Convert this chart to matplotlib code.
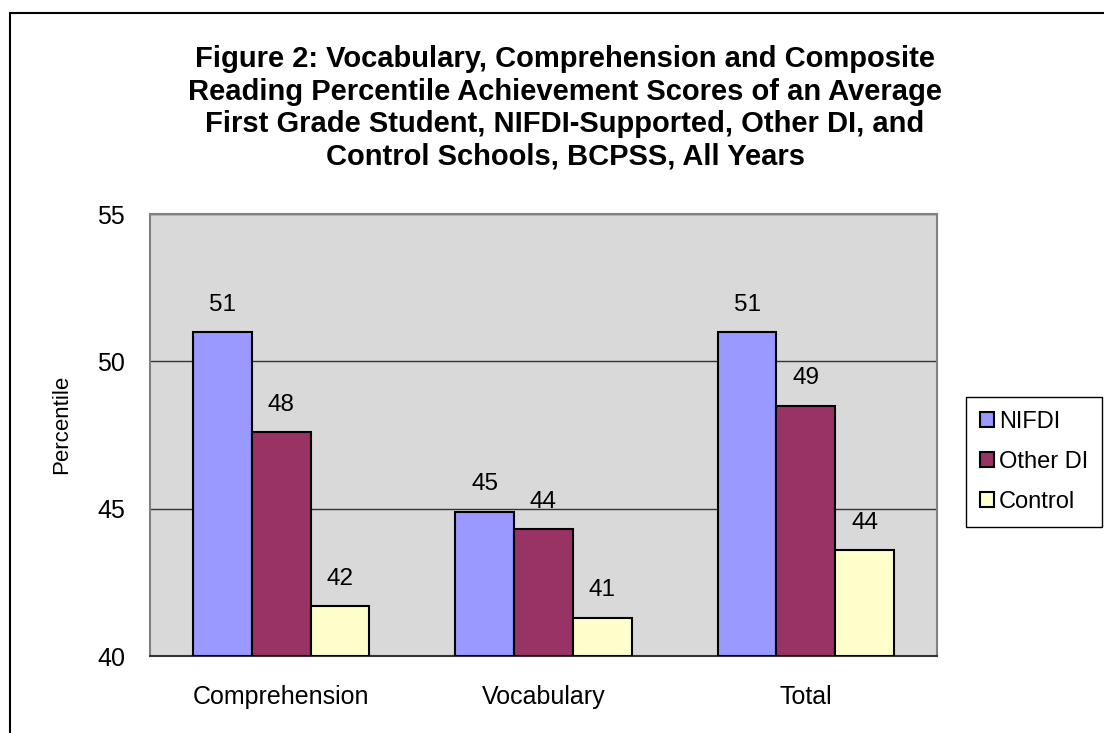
import numpy as np
import matplotlib
matplotlib.use('Agg')
import matplotlib.pyplot as plt
from matplotlib.patches import Rectangle

plt.rcParams['font.family'] = ['Liberation Sans', 'DejaVu Sans']

# Data
categories = ['Comprehension', 'Vocabulary', 'Total']
series_names = ['NIFDI', 'Other DI', 'Control']
nifdi = [51.0, 44.9, 51.0]
other_di = [47.6, 44.3, 48.5]
control = [41.7, 41.3, 43.6]
value_labels = [['51', '45', '51'], ['48', '44', '49'], ['42', '41', '44']]
colors = ['#9999FF', '#993366', '#FFFFCC']

fig = plt.figure(figsize=(11.04, 7.33), dpi=100)
ax = fig.add_axes([150 / 1104, 77 / 733, 787 / 1104, 442 / 733])
ax.set_facecolor('#D9D9D9')

x = np.arange(len(categories))
width = 0.224
all_series = [nifdi, other_di, control]
for i, (vals, name, col) in enumerate(zip(all_series, series_names, colors)):
    bars = ax.bar(x + (i - 1) * width, np.array(vals) - 40, width, bottom=40,
                  color=col, edgecolor='black', linewidth=1.5, label=name, zorder=3)
    for b, lab in zip(bars, value_labels[i]):
        ax.text(b.get_x() + b.get_width() / 2, b.get_y() + b.get_height() + 0.55, lab,
                ha='center', va='bottom', fontsize=17.5, zorder=4)

ax.set_xlim(-0.5, 2.5)
ax.set_ylim(40, 55)
ax.set_yticks([40, 45, 50, 55])
ax.set_xticks(x)
ax.set_xticklabels(categories)
ax.yaxis.grid(True, color='#333333', linewidth=1, zorder=0)
ax.set_axisbelow(True)
ax.tick_params(axis='both', length=0, labelsize=18)
ax.tick_params(axis='y', pad=18)
ax.tick_params(axis='x', pad=21)
for s in ['left', 'right', 'top']:
    ax.spines[s].set_color('#808080')
    ax.spines[s].set_linewidth(1.5)
ax.spines['bottom'].set_color('#333333')
ax.spines['bottom'].set_linewidth(1.5)

ax.set_ylabel('Percentile', fontsize=16)
ax.yaxis.set_label_coords(-0.099, 0.525)

fig.text(565 / 1104, 1 - 108 / 733,
         'Figure 2: Vocabulary, Comprehension and Composite\n'
         'Reading Percentile Achievement Scores of an Average\n'
         'First Grade Student, NIFDI-Supported, Other DI, and\n'
         'Control Schools, BCPSS, All Years',
         ha='center', va='center', fontsize=21, fontweight='bold', linespacing=1.2)

leg = fig.legend(loc='center left', bbox_to_anchor=(966 / 1104, 1 - 462 / 733),
                 fontsize=17, fancybox=False, edgecolor='black', framealpha=1,
                 handlelength=0.6, handleheight=0.6, handletextpad=0.2,
                 labelspacing=0.75, borderpad=0.6, borderaxespad=0)
leg.get_frame().set_linewidth(1)

# outer border of the original figure
fig.patches.append(Rectangle((10 / 1104, -0.1), 1.2, 1 - 13 / 733 + 0.1,
                             transform=fig.transFigure, fill=False,
                             edgecolor='black', linewidth=1.5))

fig.savefig('out.png', dpi=100)
